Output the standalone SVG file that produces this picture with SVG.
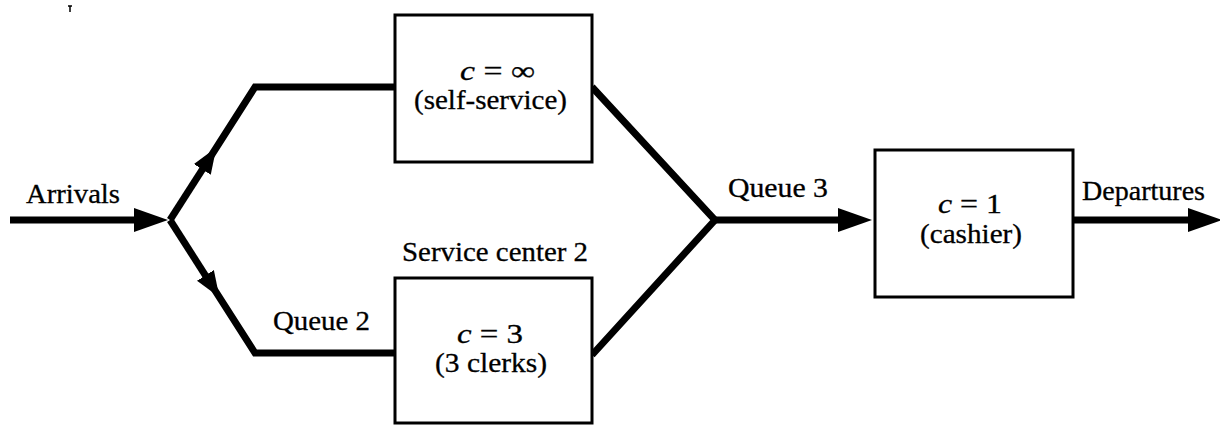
<svg xmlns="http://www.w3.org/2000/svg" width="1220" height="425" viewBox="0 0 1220 425">
  <style>
    .flow { fill: none; stroke: #000; stroke-width: 7; stroke-linejoin: miter; }
    .box { fill: #fff; stroke: #000; stroke-width: 3; }
    .lbl { font-family: "Liberation Serif", "Times New Roman", serif; font-size: 27px; fill: #000; stroke: #000; stroke-width: 0.3; }
    .var { font-style: italic; }
  </style>
  <defs>
    <!-- large flow arrowhead, base at x=0 -->
    <marker id="head" markerUnits="userSpaceOnUse" markerWidth="34" markerHeight="24" viewBox="0 0 34 24" refX="2" refY="12" orient="auto">
      <path d="M0,0 L34,12 L0,24 z" fill="#000"/>
    </marker>
    <!-- smaller arrowhead on the branch diagonals -->
    <marker id="head-sm" markerUnits="userSpaceOnUse" markerWidth="26" markerHeight="20" viewBox="0 0 26 20" refX="2" refY="10" orient="auto">
      <path d="M0,0 L26,10 L0,20 z" fill="#000"/>
    </marker>
  </defs>

  <rect width="1220" height="425" fill="#fff"/>

  <!-- stray tick at top left -->
  <path d="M70,6 L70,12 M68,6 L72,6" stroke="#000" stroke-width="1.5" fill="none"/>

  <g id="connectors">
    <!-- arrivals -->
    <path class="flow" d="M10,220 L136,220" marker-end="url(#head)"/>
    <!-- upper branch to self-service -->
    <path class="flow" d="M170,220 L203.4,167.8" marker-end="url(#head-sm)"/>
    <path class="flow" d="M203,168.5 L255,87 L395,87"/>
    <!-- lower branch to service center 2 -->
    <path class="flow" d="M170,220 L206.5,277.1" marker-end="url(#head-sm)"/>
    <path class="flow" d="M206,276.3 L255,353 L395,353"/>
    <!-- merge into queue 3 -->
    <path class="flow" d="M592,87 L715,220 L592,355"/>
    <path class="flow" d="M713,220 L840,220" marker-end="url(#head)"/>
    <!-- departures -->
    <path class="flow" d="M1073,220 L1190,220" marker-end="url(#head)"/>
  </g>

  <g id="self-service">
    <rect class="box" x="395" y="15" width="197" height="147"/>
    <text class="lbl" x="460" y="80" textLength="75" lengthAdjust="spacingAndGlyphs"><tspan class="var">c</tspan> = ∞</text>
    <text class="lbl" x="414" y="109" textLength="153" lengthAdjust="spacingAndGlyphs">(self-service)</text>
  </g>

  <g id="service-center-2">
    <rect class="box" x="395" y="278" width="197" height="145"/>
    <text class="lbl" x="457" y="343" textLength="66" lengthAdjust="spacingAndGlyphs"><tspan class="var">c</tspan> = 3</text>
    <text class="lbl" x="435" y="372" textLength="112" lengthAdjust="spacingAndGlyphs">(3 clerks)</text>
    <text class="lbl" x="402" y="261" textLength="186" lengthAdjust="spacingAndGlyphs">Service center 2</text>
  </g>

  <g id="cashier">
    <rect class="box" x="875" y="150" width="198" height="147"/>
    <text class="lbl" x="938" y="213" textLength="64" lengthAdjust="spacingAndGlyphs"><tspan class="var">c</tspan> = 1</text>
    <text class="lbl" x="920" y="243" textLength="102" lengthAdjust="spacingAndGlyphs">(cashier)</text>
  </g>

  <g id="labels">
    <text class="lbl" x="26" y="203" textLength="94" lengthAdjust="spacingAndGlyphs">Arrivals</text>
    <text class="lbl" x="273" y="330" textLength="97" lengthAdjust="spacingAndGlyphs">Queue 2</text>
    <text class="lbl" x="728" y="197" textLength="100" lengthAdjust="spacingAndGlyphs">Queue 3</text>
    <text class="lbl" x="1082" y="200" textLength="123" lengthAdjust="spacingAndGlyphs">Departures</text>
  </g>
</svg>
